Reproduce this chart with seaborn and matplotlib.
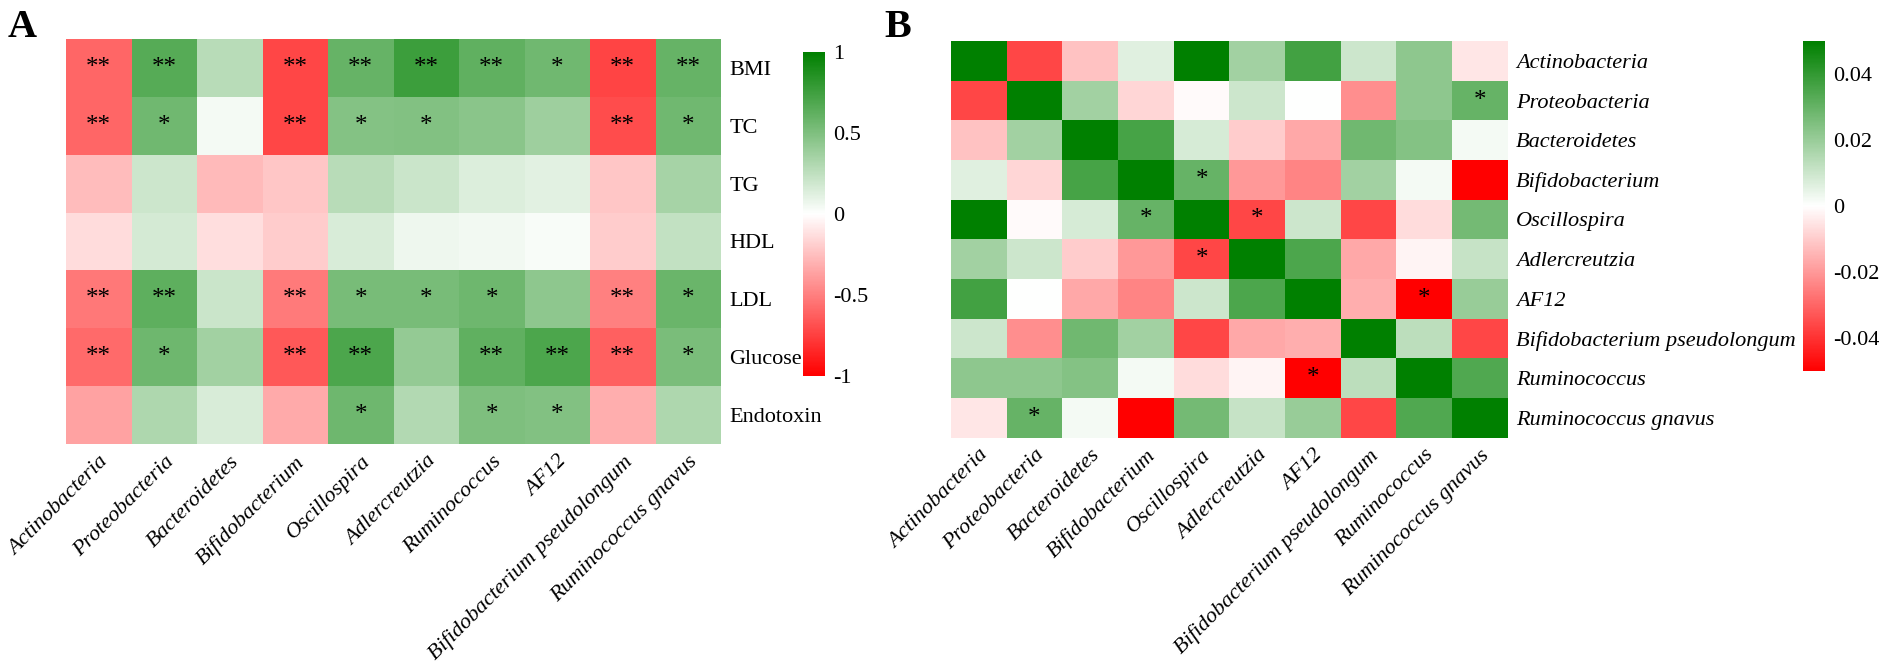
import numpy as np
import pandas as pd
import seaborn as sns
import matplotlib.pyplot as plt
from matplotlib.colors import LinearSegmentedColormap

plt.rcParams['font.family'] = ['Liberation Serif', 'DejaVu Serif']
plt.rcParams['axes.unicode_minus'] = False

bacteria_a = ['Actinobacteria', 'Proteobacteria', 'Bacteroidetes', 'Bifidobacterium',
              'Oscillospira', 'Adlercreutzia', 'Ruminococcus', 'AF12',
              'Bifidobacterium pseudolongum', 'Ruminococcus gnavus']
bacteria_b = ['Actinobacteria', 'Proteobacteria', 'Bacteroidetes', 'Bifidobacterium',
              'Oscillospira', 'Adlercreutzia', 'AF12', 'Bifidobacterium pseudolongum',
              'Ruminococcus', 'Ruminococcus gnavus']
indices = ['BMI', 'TC', 'TG', 'HDL', 'LDL', 'Glucose', 'Endotoxin']

# panel A: correlation of each index with the bacteria
bmi = [-0.60, 0.66, 0.28, -0.72, 0.60, 0.76, 0.62, 0.56, -0.73, 0.60]
tc = [-0.60, 0.56, 0.04, -0.72, 0.48, 0.49, 0.46, 0.38, -0.70, 0.56]
tg = [-0.26, 0.20, -0.27, -0.22, 0.28, 0.21, 0.14, 0.11, -0.22, 0.35]
hdl = [-0.14, 0.17, -0.13, -0.20, 0.15, 0.07, 0.05, 0.03, -0.20, 0.24]
ldl = [-0.53, 0.63, 0.21, -0.52, 0.53, 0.53, 0.57, 0.44, -0.50, 0.58]
glucose = [-0.58, 0.57, 0.36, -0.65, 0.70, 0.42, 0.62, 0.70, -0.62, 0.52]
endotoxin = [-0.36, 0.32, 0.15, -0.33, 0.57, 0.30, 0.50, 0.49, -0.32, 0.32]

sig_bmi = ['**', '**', '', '**', '**', '**', '**', '*', '**', '**']
sig_tc = ['**', '*', '', '**', '*', '*', '', '', '**', '*']
sig_tg = [''] * 10
sig_hdl = [''] * 10
sig_ldl = ['**', '**', '', '**', '*', '*', '*', '', '**', '*']
sig_glucose = ['**', '*', '', '**', '**', '', '**', '**', '**', '*']
sig_endotoxin = ['', '', '', '', '*', '', '*', '*', '', '']

# panel B: upper triangle of the bacteria x bacteria matrix, row by row
upper_b = [
    [0.05, -0.036, -0.012, 0.006, 0.05, 0.018, 0.037, 0.010, 0.022, -0.005],
    [0.05, 0.018, -0.008, -0.001, 0.010, 0.000, -0.022, 0.022, 0.030],
    [0.05, 0.036, 0.008, -0.010, -0.017, 0.028, 0.024, 0.002],
    [0.05, 0.030, -0.020, -0.024, 0.018, 0.002, -0.05],
    [0.05, -0.036, 0.010, -0.036, -0.007, 0.027],
    [0.05, 0.035, -0.017, -0.002, 0.011],
    [0.05, -0.016, -0.05, 0.020],
    [0.05, 0.013, -0.036],
    [0.05, 0.034],
    [0.05],
]
sig_pairs_b = [(1, 9), (3, 4), (4, 5), (6, 8)]

cbar_ticks_a = [-1, -0.5, 0, 0.5, 1]
cbar_labels_a = ['-1', '-0.5', '0', '0.5', '1']
cbar_ticks_b = [-0.04, -0.02, 0, 0.02, 0.04]
cbar_labels_b = ['-0.04', '-0.02', '0', '0.02', '0.04']

cmap = LinearSegmentedColormap.from_list('rwg', ['#ff0000', '#ffffff', '#008000'])

data_a = pd.DataFrame([bmi, tc, tg, hdl, ldl, glucose, endotoxin], index=indices, columns=bacteria_a)
annot_a = np.array([sig_bmi, sig_tc, sig_tg, sig_hdl, sig_ldl, sig_glucose, sig_endotoxin])

n = len(bacteria_b)
mat_b = np.zeros((n, n))
for i, row in enumerate(upper_b):
    for k, v in enumerate(row):
        mat_b[i, i + k] = v
        mat_b[i + k, i] = v
data_b = pd.DataFrame(mat_b, index=bacteria_b, columns=bacteria_b)
annot_b = np.full((n, n), '', dtype=object)
for i, j in sig_pairs_b:
    annot_b[i, j] = '*'
    annot_b[j, i] = '*'

fig = plt.figure(figsize=(18.86, 6.64), dpi=100)
ax_a = fig.add_axes([0.035, 0.3313, 0.3473, 0.610])
cax_a = fig.add_axes([0.4258, 0.4337, 0.01166, 0.488])
ax_b = fig.add_axes([0.5042, 0.3411, 0.2953, 0.5971])
cax_b = fig.add_axes([0.956, 0.4413, 0.01166, 0.497])


def draw_panel(ax, cax, data, annot, vmax, ticks, tlabels, italic_y, star_size):
    sns.heatmap(data, ax=ax, cbar_ax=cax, cmap=cmap, vmin=-vmax, vmax=vmax,
                annot=annot, fmt='', annot_kws={'fontsize': star_size, 'color': 'black'},
                linewidths=0)
    ax.yaxis.tick_right()
    ax.tick_params(length=0, pad=6)
    ax.set_xlabel('')
    ax.set_ylabel('')
    ax.set_xticklabels(data.columns, rotation=45, ha='right', rotation_mode='anchor',
                       fontsize=16, style='italic')
    ax.set_yticklabels(data.index, rotation=0, fontsize=16,
                       style='italic' if italic_y else 'normal')
    cb = ax.collections[0].colorbar
    cb.outline.set_visible(False)
    cb.set_ticks(ticks)
    cb.set_ticklabels(tlabels)
    cax.tick_params(length=0, labelsize=16, pad=6)


draw_panel(ax_a, cax_a, data_a, annot_a, 1.0, cbar_ticks_a, cbar_labels_a, False, 18)
draw_panel(ax_b, cax_b, data_b, annot_b, 0.05, cbar_ticks_b, cbar_labels_b, True, 18)

fig.text(0.004, 0.945, 'A', fontsize=29, fontweight='bold')
fig.text(0.469, 0.945, 'B', fontsize=29, fontweight='bold')

fig.savefig('out.png', dpi=100)
